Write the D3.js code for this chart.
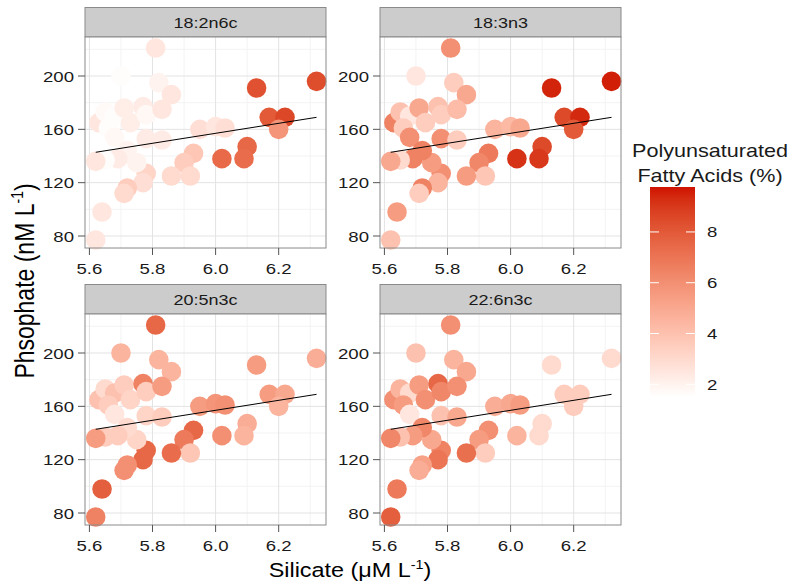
<!DOCTYPE html>
<html>
<head>
<meta charset="utf-8">
<script src="https://cdn.jsdelivr.net/npm/d3@7"></script>
<style>
  html, body { margin: 0; padding: 0; background: #fff; }
  svg { display: block; font-family: "Liberation Sans", Arial, Helvetica, sans-serif; }
</style>
</head>
<body>
<svg id="chart" width="792" height="586"></svg>
<script>
// ---------------- data ----------------
const panels = ["18:2n6c", "18:3n3", "20:5n3c", "22:6n3c"];
const silicate = [5.81,5.70,5.82,5.86,6.13,6.32,5.63,5.65,5.68,5.66,5.71,5.73,5.77,5.78,5.83,5.68,5.78,5.83,5.95,6.00,6.03,6.17,6.22,6.20,6.10,6.09,6.02,5.93,5.90,5.92,5.86,5.78,5.77,5.75,5.72,5.69,5.65,5.62,5.72,5.71,5.64,5.62];
const phosphate = [221,200,195,186,191,196,165,173,170,161,176,165,177,171,175,154,153,152,160,162,161,169,169,160,147,138,138,142,135,125,125,127,120,135,144,138,137,136,116,112,98,77];
const pufa18_2n6c = [2.5,1.6,2.0,2.5,8.3,8.4,2.5,1.7,1.6,1.6,2.2,2.2,2.3,1.8,2.5,1.8,2.3,2.3,2.8,2.5,2.8,8.0,8.6,5.8,7.5,7.3,7.4,3.8,3.5,3.0,3.0,3.2,2.8,2.0,2.0,2.3,1.6,2.5,3.5,3.0,2.5,2.5];
const pufa18_3n3  = [6.0,2.5,3.5,5.0,9.5,9.6,6.5,4.0,2.5,3.5,5.0,3.5,4.0,3.5,4.2,6.0,6.0,3.5,4.5,4.3,5.0,8.5,9.4,8.0,8.5,9.0,9.2,6.8,6.3,3.8,5.5,6.0,4.5,5.5,6.5,6.5,3.0,5.0,6.5,3.5,5.5,4.0];
const pufa20_5n3c = [7.5,4.5,4.5,4.5,5.5,4.8,4.0,3.0,4.0,3.5,3.5,3.2,6.5,3.5,5.5,2.5,3.2,3.5,5.5,5.8,6.0,5.5,5.0,4.5,4.8,4.5,6.0,7.5,6.8,3.8,7.3,7.5,7.5,3.2,3.0,3.5,3.5,5.5,6.0,6.0,7.8,6.5];
const pufa22_6n3c = [6.0,4.0,4.5,5.0,3.0,3.0,6.0,4.5,3.0,5.5,5.5,6.0,7.5,6.3,6.0,2.5,4.0,5.0,4.8,5.0,5.5,3.5,3.5,3.5,3.0,3.0,4.5,6.0,5.5,3.5,7.2,6.5,7.0,5.0,6.3,5.5,4.0,6.3,5.3,4.8,6.8,7.8];
const fitSilicate = [5.62, 6.32];
const fitPhosphate = [142.8, 169.0];
const xTicks = [5.6, 5.8, 6.0, 6.2];
const xMinor = [5.7, 5.9, 6.1, 6.3];
const yTicks = [80, 120, 160, 200];
const yMinor = [100, 140, 180, 220];
const colourLimits = [1.5, 9.77];
const legendTicks = [2, 4, 6, 8];

const panelValues = [pufa18_2n6c, pufa18_3n3, pufa20_5n3c, pufa22_6n3c];

// ---------------- layout ----------------
const svg = d3.select("#chart");
const PW = 241, PH = 211, STRIP = 29.5;
const panelPos = [[85, 37], [380, 37], [85, 314], [380, 314]];
const SX = 1.2; // horizontal glyph stretch of the reference

const x = d3.scaleLinear().domain([5.586, 6.35]).range([0, PW]);
const y = d3.scaleLinear().domain([71, 229.25]).range([PH, 0]);
const colour = d3.scaleLinear().domain(colourLimits)
  .range(["#FFFFFF", "#CF1200"]).interpolate(d3.interpolateLab);

function stext(g, tx, ty, str, size, anchor, extra) {
  const t = g.append("text")
    .attr("transform", `translate(${tx},${ty}) scale(${SX},1)` + (extra || ""))
    .attr("font-size", size)
    .attr("text-anchor", anchor)
    .attr("fill", "#1a1a1a")
    .text(str);
  return t;
}

panels.forEach((name, pi) => {
  const [px, py] = panelPos[pi];
  const g = svg.append("g").attr("transform", `translate(${px},${py})`);

  // strip
  g.append("rect").attr("x", 0).attr("y", -STRIP).attr("width", PW).attr("height", STRIP)
    .attr("fill", "#CCCCCC").attr("stroke", "#8a8a8a").attr("stroke-width", 1);
  stext(g, PW / 2, -STRIP / 2 + 5.5, name, 15, "middle");

  // background
  g.append("rect").attr("width", PW).attr("height", PH).attr("fill", "#fff");

  // grid
  g.selectAll(".xmin").data(xMinor).join("line")
    .attr("x1", d => x(d)).attr("x2", d => x(d)).attr("y1", 0).attr("y2", PH)
    .attr("stroke", "#F3F3F3").attr("stroke-width", 1);
  g.selectAll(".ymin").data(yMinor).join("line")
    .attr("y1", d => y(d)).attr("y2", d => y(d)).attr("x1", 0).attr("x2", PW)
    .attr("stroke", "#F3F3F3").attr("stroke-width", 1);
  g.selectAll(".xmaj").data(xTicks).join("line")
    .attr("x1", d => x(d)).attr("x2", d => x(d)).attr("y1", 0).attr("y2", PH)
    .attr("stroke", "#E3E3E3").attr("stroke-width", 1);
  g.selectAll(".ymaj").data(yTicks).join("line")
    .attr("y1", d => y(d)).attr("y2", d => y(d)).attr("x1", 0).attr("x2", PW)
    .attr("stroke", "#E3E3E3").attr("stroke-width", 1);

  // points
  const vals = panelValues[pi];
  g.selectAll("circle").data(silicate.map((s, i) => ({ s, p: phosphate[i], v: vals[i] })))
    .join("circle")
    .attr("cx", d => x(d.s)).attr("cy", d => y(d.p)).attr("r", 9.8)
    .attr("fill", d => colour(d.v));

  // fit line
  g.append("path")
    .datum(fitSilicate.map((s, i) => [s, fitPhosphate[i]]))
    .attr("d", d3.line().x(d => x(d[0])).y(d => y(d[1])))
    .attr("stroke", "#000").attr("stroke-width", 1).attr("fill", "none");

  // border
  g.append("rect").attr("width", PW).attr("height", PH).attr("fill", "none")
    .attr("stroke", "#8a8a8a").attr("stroke-width", 1);

  // y axis ticks
  yTicks.forEach(t => {
    g.append("line").attr("x1", -7).attr("x2", 0).attr("y1", y(t)).attr("y2", y(t))
      .attr("stroke", "#555").attr("stroke-width", 1);
    stext(g, -11, y(t) + 5.5, t, 15.5, "end");
  });
  // x axis ticks
  xTicks.forEach(t => {
    g.append("line").attr("x1", x(t)).attr("x2", x(t)).attr("y1", PH).attr("y2", PH + 7)
      .attr("stroke", "#555").attr("stroke-width", 1);
    stext(g, x(t), PH + 26, d3.format(".1f")(t), 15.5, "middle");
  });
});

// axis titles
const xt = svg.append("text")
  .attr("transform", `translate(350,577) scale(${SX},1)`)
  .attr("font-size", 19.5).attr("text-anchor", "middle").attr("fill", "#000");
xt.append("tspan").text("Silicate (μM L");
xt.append("tspan").attr("font-size", 12).attr("dy", -8).text("-1");
xt.append("tspan").attr("dy", 8).text(")");

const yt = svg.append("text")
  .attr("transform", `translate(34,281) scale(${SX},1) rotate(-90)`)
  .attr("font-size", 23).attr("text-anchor", "middle").attr("fill", "#000");
yt.append("tspan").text("Phsophate (nM L");
yt.append("tspan").attr("font-size", 14).attr("dy", -9).text("-1");
yt.append("tspan").attr("dy", 9).text(")");

// legend
const lg = svg.append("g");
stext(lg, 710, 157, "Polyunsaturated", 18, "middle");
stext(lg, 710, 182, "Fatty Acids (%)", 18, "middle");

const barX = 650, barW = 45, barTop = 187, barBot = 397;
const ly = d3.scaleLinear().domain(colourLimits).range([barBot, barTop]);
const defs = svg.append("defs");
const grad = defs.append("linearGradient").attr("id", "lgGrad")
  .attr("x1", 0).attr("y1", 1).attr("x2", 0).attr("y2", 0);
d3.range(0, 1.0001, 0.05).forEach(t => {
  grad.append("stop").attr("offset", t)
    .attr("stop-color", colour(colourLimits[0] + t * (colourLimits[1] - colourLimits[0])));
});
lg.append("rect").attr("x", barX).attr("y", barTop).attr("width", barW).attr("height", barBot - barTop)
  .attr("fill", "url(#lgGrad)");
legendTicks.forEach(t => {
  lg.append("line").attr("x1", barX).attr("x2", barX + 9).attr("y1", ly(t)).attr("y2", ly(t))
    .attr("stroke", "#fff").attr("stroke-width", 1);
  lg.append("line").attr("x1", barX + barW - 9).attr("x2", barX + barW).attr("y1", ly(t)).attr("y2", ly(t))
    .attr("stroke", "#fff").attr("stroke-width", 1);
  stext(lg, 707, ly(t) + 5.5, t, 15.5, "start");
});
</script>
</body>
</html>
